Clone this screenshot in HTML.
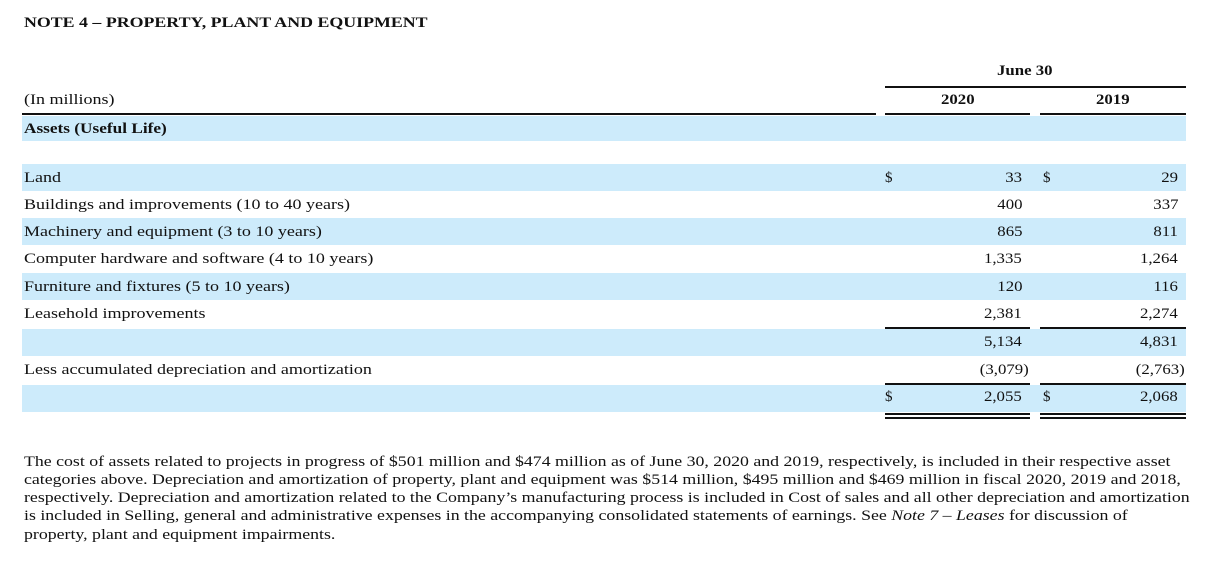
<!DOCTYPE html>
<html><head><meta charset="utf-8"><style>
body{margin:0;width:1207px;height:566px;background:#fff;position:relative;overflow:hidden;font-family:"Liberation Serif",serif;color:#111;}
.a{position:absolute;white-space:nowrap;}
.s{position:absolute;background:#cdebfb;left:22px;width:1164px;}
.l{position:absolute;height:2px;background:#111;}
.t{font-size:15px;}
.sx{transform:scaleX(1.2);transform-origin:left center;}
.sv{transform:scaleX(1.12);transform-origin:right center;}
.p{font-size:14.6px;left:24px;transform:scaleX(1.22);transform-origin:left center;}
</style></head><body>
<div class="a" style="left:24px;top:15px;font-size:15px;font-weight:bold;transform:scaleX(1.19);transform-origin:left center;">NOTE 4 – PROPERTY, PLANT AND EQUIPMENT</div>

<div class="a t" style="left:997px;top:63px;font-weight:bold;transform:scaleX(1.12);transform-origin:left center;">June 30</div>
<div class="l" style="left:885px;width:301px;top:86px;"></div>
<div class="a t sx" style="left:24px;top:92px;">(In millions)</div>
<div class="a t" style="left:941px;top:92px;font-weight:bold;transform:scaleX(1.12);transform-origin:left center;">2020</div>
<div class="a t" style="left:1096px;top:92px;font-weight:bold;transform:scaleX(1.12);transform-origin:left center;">2019</div>
<div class="l" style="left:22px;width:854px;top:113px;"></div>
<div class="l" style="left:885px;width:145px;top:113px;"></div>
<div class="l" style="left:1040px;width:146px;top:113px;"></div>

<div class="s" style="top:116px;height:25px;"></div>
<div class="a t" style="left:24px;top:121px;font-weight:bold;transform:scaleX(1.15);transform-origin:left center;">Assets (Useful Life)</div>

<div class="s" style="top:164px;height:27px;"></div>
<div class="s" style="top:218px;height:27px;"></div>
<div class="s" style="top:273px;height:27px;"></div>
<div class="s" style="top:329px;height:27px;"></div>
<div class="s" style="top:385px;height:27px;"></div>

<div id="rows"></div>

<div class="l" style="left:885px;width:145px;top:327px;"></div>
<div class="l" style="left:1040px;width:146px;top:327px;"></div>
<div class="l" style="left:885px;width:145px;top:383px;"></div>
<div class="l" style="left:1040px;width:146px;top:383px;"></div>
<div class="l" style="left:885px;width:145px;top:413px;height:1.5px;"></div>
<div class="l" style="left:885px;width:145px;top:417px;height:1.5px;"></div>
<div class="l" style="left:1040px;width:146px;top:413px;height:1.5px;"></div>
<div class="l" style="left:1040px;width:146px;top:417px;height:1.5px;"></div>

<div class="a p" style="top:454px;">The cost of assets related to projects in progress of $501 million and $474 million as of June 30, 2020 and 2019, respectively, is included in their respective asset</div>
<div class="a p" style="top:472px;">categories above. Depreciation and amortization of property, plant and equipment was $514 million, $495 million and $469 million in fiscal 2020, 2019 and 2018,</div>
<div class="a p" style="top:490px;">respectively. Depreciation and amortization related to the Company’s manufacturing process is included in Cost of sales and all other depreciation and amortization</div>
<div class="a p" style="top:508px;">is included in Selling, general and administrative expenses in the accompanying consolidated statements of earnings. See <i>Note 7 – Leases</i> for discussion of</div>
<div class="a p" style="top:527px;">property, plant and equipment impairments.</div>

<script>
const labels=["Land","Buildings and improvements (10 to 40 years)","Machinery and equipment (3 to 10 years)","Computer hardware and software (4 to 10 years)","Furniture and fixtures (5 to 10 years)","Leasehold improvements","","Less accumulated depreciation and amortization",""];
const vals2020=["33","400","865","1,335","120","2,381","5,134","(3,079)","2,055"];
const vals2019=["29","337","811","1,264","116","2,274","4,831","(2,763)","2,068"];
const dollarRows=[0,8];
const tops=[170,197,224,251,279,306,334,362,389];
const host=document.getElementById('rows');
function add(txt,cls,style,name){
  const d=document.createElement('div');
  d.className='a t '+cls;
  d.textContent=txt;
  d.setAttribute('style',style);
  
  
  host.appendChild(d);
}
labels.forEach((lab,i)=>{
  const top=tops[i];
  if(lab) add(lab,'sx',`left:24px;top:${top}px;`,'row-label-'+i);
  const p20=vals2020[i].startsWith('(');
  const p19=vals2019[i].startsWith('(');
  add(vals2020[i],'sv',`right:${1207-(p20?1029:1022)}px;top:${top}px;`,'value-2020-'+i);
  add(vals2019[i],'sv',`right:${1207-(p19?1185:1178)}px;top:${top}px;`,'value-2019-'+i);
  if(dollarRows.includes(i)){
    add('$','',`left:885px;top:${top}px;`,'dollar-2020-'+i);
    add('$','',`left:1043px;top:${top}px;`,'dollar-2019-'+i);
  }
});
</script>
</body></html>
